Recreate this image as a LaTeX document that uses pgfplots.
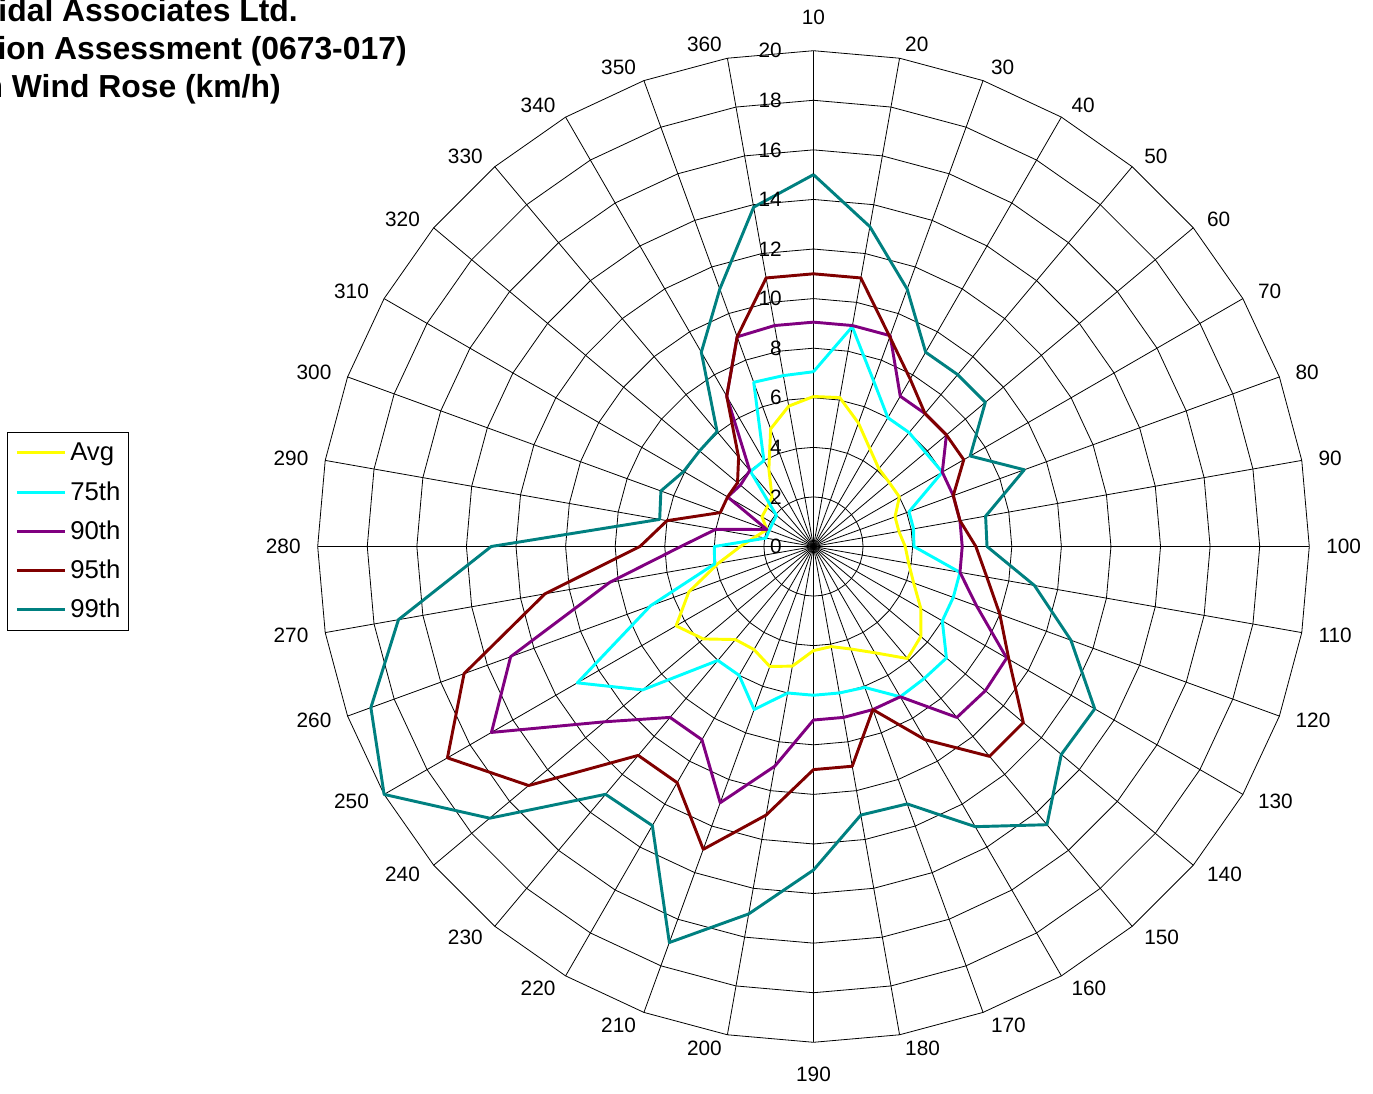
\documentclass[border=0pt]{standalone}
\usepackage{pgfplots}
\pgfplotsset{compat=1.18}
\usepgfplotslibrary{polar}
\usepackage{pgfplotstable}
\usepackage{fontspec}
\setmainfont{Liberation Sans}

\definecolor{cavg}{RGB}{255,255,0}
\definecolor{cpsf}{RGB}{0,255,255}
\definecolor{cpnz}{RGB}{128,0,128}
\definecolor{cpnf}{RGB}{128,0,0}
\definecolor{cpnn}{RGB}{0,128,128}

% wind speed (km/h) by direction; last row closes the loop
\pgfplotstableread{
dir avg  p75  p90  p95   p99
10  6.05 7.05 9.05 11.0  15.0
20  6.1  9.0  9.05 11.0  13.1
30  5.3  7.1  9.05 9.0   11.05
40  4.55 6.0  7.0  7.8   9.05
50  4.1  6.0  7.0  7.0   9.05
60  4.0  5.9  7.0  7.0   9.05
70  4.0  6.0  6.0  7.0   7.3
80  3.5  4.1  6.0  6.0   9.05
90  3.5  4.1  6.0  6.0   7.05
100 3.7  4.05 6.0  6.55  7.0
110 3.9  6.0  6.0  7.1   9.05
120 4.3  6.0  7.0  8.0   11.05
130 5.0  6.0  9.0  9.1   13.1
140 5.65 7.0  9.05 11.05 13.05
150 5.9  6.95 9.0  11.05 14.65
160 4.95 7.0  7.0  9.0   13.05
170 4.4  6.05 7.0  7.0   11.05
180 4.1  6.0  7.0  9.0   11.0
190 4.2  6.0  7.0  9.0   13.05
200 4.9  6.0  9.0  11.0  15.05
210 5.15 7.0  11.0 13.0  17.0
220 4.8  6.0  9.0  11.0  13.0
230 4.9  6.0  9.0  11.0  13.05
240 5.8  9.0  11.0 15.0  17.05
250 6.4  11.0 15.0 17.05 20.0
260 5.35 7.0  13.0 15.0  19.0
270 3.9  4.05 8.35 11.0  17.0
280 2.95 4.0  5.35 7.0   13.0
290 2.35 1.95 4.0  6.0   6.3
300 2.0  1.9  2.0  4.0   6.55
310 2.4  1.9  4.0  4.0   6.05
320 2.45 1.95 3.85 4.0   6.0
330 2.6  3.95 4.0  4.7   6.05
340 3.6  4.0  7.0  7.0   9.05
350 5.05 7.05 9.0  9.0   11.05
360 5.75 7.0  9.05 11.0  13.9
370 6.05 7.05 9.05 11.0  15.0
}\wind

% polygon grid: angle, unit radius
\pgfplotstableread{
a   u
0   1
10  1
20  1
30  1
40  1
50  1
60  1
70  1
80  1
90  1
100 1
110 1
120 1
130 1
140 1
150 1
160 1
170 1
180 1
190 1
200 1
210 1
220 1
230 1
240 1
250 1
260 1
270 1
280 1
290 1
300 1
310 1
320 1
330 1
340 1
350 1
360 1
}\gridtab

\pgfplotsset{
  gridl/.style={black, line width=0.6pt, forget plot},
  serie/.style={line width=2.2pt, line join=round},
}
\tikzset{lbl/.style={font=\fontsize{15.6}{18}\selectfont}}

\begin{document}
\begin{tikzpicture}
\begin{polaraxis}[
  at={(0pt,0pt)}, anchor=center,
  scale only axis, width=743.7pt, height=743.7pt,
  xmin=0, xmax=360, ymin=0, ymax=20,
  hide axis, clip=false,
  legend style={at={(-0.3134,0.6155)}, anchor=north west,
    draw=black, line width=0.6pt,
    font=\fontsize{19.3}{23}\selectfont,
    inner xsep=6pt, inner ysep=5.4pt, row sep=9.44pt,
    nodes={inner sep=0pt, text height=16pt, text depth=4pt, anchor=west},
    /tikz/every odd column/.append style={column sep=3pt}},
  legend image code/.code={\draw[#1] (0pt,0pt) -- (36pt,0pt);},
]
\pgfplotsinvokeforeach{0,10,...,350}{
  \addplot[gridl] coordinates {(#1,0) (#1,20)};
}
\pgfplotsinvokeforeach{2,4,...,20}{
  \addplot[gridl] table[x=a, y expr={#1*\thisrow{u}}] {\gridtab};
}

\addplot[serie, cavg] table[x expr={mod(460-\thisrow{dir},360)}, y=avg] {\wind};
\addlegendentry{Avg}
\addplot[serie, cpsf] table[x expr={mod(460-\thisrow{dir},360)}, y=p75] {\wind};
\addlegendentry{75th}
\addplot[serie, cpnz] table[x expr={mod(460-\thisrow{dir},360)}, y=p90] {\wind};
\addlegendentry{90th}
\addplot[serie, cpnf] table[x expr={mod(460-\thisrow{dir},360)}, y=p95] {\wind};
\addlegendentry{95th}
\addplot[serie, cpnn] table[x expr={mod(460-\thisrow{dir},360)}, y=p99] {\wind};
\addlegendentry{99th}

% radial scale
\pgfplotsinvokeforeach{0,2,...,20}{
  \node[lbl, anchor=east, inner sep=0pt, xshift=-23.6pt] at (axis cs:90,#1) {#1};
}
% directions
\pgfplotsinvokeforeach{20,30,...,180}{
  \node[lbl, anchor=west, inner xsep=2.25pt, inner ysep=0pt] at (axis cs:{460-#1},20.557) {#1};
}
\pgfplotsinvokeforeach{200,210,...,360}{
  \node[lbl, anchor=east, inner xsep=2.25pt, inner ysep=0pt] at (axis cs:{460-#1},20.557) {#1};
}
\node[lbl, inner sep=0pt] at (axis cs:90,21.33) {10};
\node[lbl, inner sep=0pt] at (axis cs:270,21.28) {190};
\end{polaraxis}

\begin{scope}[every node/.style={anchor=base east, inner sep=0pt,
    font=\bfseries\fontsize{23.9}{28}\selectfont}]
\node at (-386.6pt,394.1pt) {idal Associates Ltd.};
\node at (-304.9pt,365.2pt) {ion Assessment (0673-017)};
\node at (-399.4pt,336.4pt) {n Wind Rose (km/h)};
\end{scope}

\pgfresetboundingbox
\useasboundingbox (-610.125pt,-410.625pt) rectangle (419.625pt,409.875pt);
\end{tikzpicture}
\end{document}
